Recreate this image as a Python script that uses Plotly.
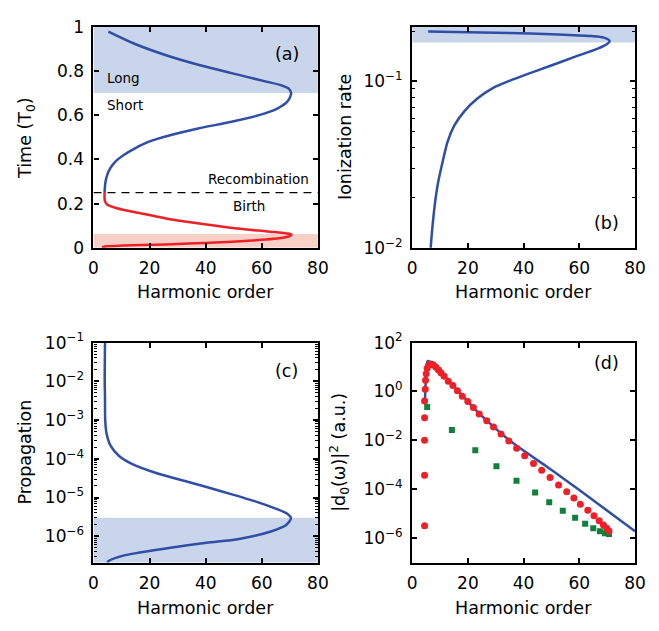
import plotly.graph_objects as go

W, H = 659, 631
FONT = "DejaVu Sans"
BLUE = "#2f4ea6"
RED = "#ee2027"
GREEN = "#11803c"
BAND_BLUE = "#c9d5ea"
BAND_RED = "#f9d0c8"

# ---------------- Panel (a): time vs harmonic order ----------------
recomb_time = [0.252, 0.28, 0.30, 0.33, 0.36, 0.39, 0.42, 0.45, 0.48, 0.51, 0.54,
               0.57, 0.60, 0.63, 0.66, 0.685, 0.702, 0.72, 0.735, 0.753, 0.789, 0.826,
               0.869, 0.922, 0.978]
recomb_order = [3.95, 4.1, 4.3, 4.9, 6.0, 7.8, 10.8, 14.8, 19.8, 27.6, 37.3,
                49.2, 59.0, 65.5, 69.0, 70.2, 70.4, 69.6, 67.0, 61.2, 49.6, 38.0,
                26.4, 14.8, 5.3]
birth_time = [0.003, 0.007, 0.010, 0.014, 0.019, 0.025, 0.033, 0.045, 0.055, 0.060,
              0.065, 0.073, 0.087, 0.106, 0.128, 0.157, 0.179, 0.196, 0.210, 0.222, 0.252]
birth_order = [3.0, 4.9, 10.6, 22.2, 33.8, 45.4, 57.0, 67.5, 70.2, 70.5,
               68.8, 62.8, 51.2, 39.6, 28.0, 16.45, 8.34, 4.86, 4.1, 3.95, 3.95]
long_band = [0.70, 1.0]
birth_band = [0.0, 0.0625]
split_time = 0.25
time_ticks = [0, 0.2, 0.4, 0.6, 0.8, 1]
time_ticktext = ["0", "0.2", "0.4", "0.6", "0.8", "1"]

# ---------------- Panel (b): ionization rate ----------------
ion_order = [5.73, 34.9, 52.4, 64.1, 68.8, 70.9, 70.0, 66.4, 58.3, 48.9, 40.8, 34.9,
             29.1, 23.4, 18.7, 15.1, 12.7, 11.0, 9.24, 8.07, 7.13, 6.67, 6.5]
ion_rate = [0.1986, 0.195, 0.191, 0.1866, 0.1828, 0.1746, 0.1671, 0.1563, 0.140, 0.1225,
            0.1096, 0.1005, 0.0912, 0.0787, 0.0659, 0.0541, 0.0433, 0.0332, 0.0243,
            0.01786, 0.01253, 0.01005, 0.0089]
ion_band = [0.171, 0.25]

# ---------------- Panel (c): propagation ----------------
prop_order = [4.1, 4.0, 4.1, 4.16, 4.63, 6.13, 9.03, 13.67, 22.9, 34.5, 46.1, 57.7,
              64.7, 69.3, 70.4, 68.7, 63.5, 51.9, 40.3, 28.0, 16.45, 10.6, 5.4, 4.9]
prop_val = [0.1, 0.01, 3.7e-3, 1.05e-3, 4.57e-4, 2.14e-4, 1.20e-4, 7.41e-5, 4.17e-5,
            2.45e-5, 1.41e-5, 7.94e-6, 5.25e-6, 3.72e-6, 2.95e-6, 1.95e-6, 1.35e-6,
            8.51e-7, 6.76e-7, 5.13e-7, 3.80e-7, 3.16e-7, 2.29e-7, 2.09e-7]
prop_band = [1e-7, 3.0e-6]

# ---------------- Panel (d): dipole spectrum ----------------
dip_order = [4.6, 4.9, 5.2, 5.6, 6.5, 8.0, 10.9, 16.7, 22.5, 28.4, 34.2, 40.6,
             48.0, 56.0, 64.0, 72.0, 80.0]
dip_val = [0.447, 3.16, 11.2, 17.8, 15.8, 11.2, 5.25, 1.0, 0.191, 0.0437, 0.0117,
           3.39e-3, 8.91e-4, 2.0e-4, 4.27e-5, 9.12e-6, 1.91e-6]
red_order = [4.45, 4.45, 4.45, 4.45, 4.45, 4.68, 4.8, 5.03, 5.38, 5.97, 6.78, 7.6,
             8.54, 9.47, 10.4, 11.45, 12.97, 14.6, 16.24, 17.99, 19.97, 21.96, 24.06,
             26.75, 29.2, 31.9, 34.7, 37.5, 40.4, 43.56, 46.48, 49.5, 52.55, 55.47,
             58.04, 60.37, 63.06, 65.28, 67.15, 68.66, 69.83, 70.65]
red_val = [3.2e-6, 3.7e-4, 1.0e-2, 8.5e-2, 0.41, 1.23, 2.88, 5.25, 8.91, 12.0, 13.2, 12.0,
           9.77, 7.59, 5.75, 4.17, 2.63, 1.74, 1.07, 0.631, 0.389, 0.219, 0.120,
           0.0631, 0.0355, 0.0182, 9.33e-3, 4.79e-3, 2.34e-3, 1.12e-3, 6.03e-4, 3.02e-4,
           1.51e-4, 7.94e-5, 4.37e-5, 2.45e-5, 1.38e-5, 8.32e-6, 5.13e-6, 3.47e-6,
           2.57e-6, 1.95e-6]
green_order = [5.38, 14.26, 22.66, 30.25, 37.45, 44.14, 49.2, 54.07, 58.5, 62.1, 65.0,
               67.4, 69.25, 70.65]
green_val = [0.234, 0.0263, 3.98e-3, 8.71e-4, 2.24e-4, 7.41e-5, 2.95e-5, 1.32e-5,
             6.76e-6, 3.89e-6, 2.57e-6, 1.91e-6, 1.58e-6, 1.48e-6]

order_ticks = [0, 20, 40, 60, 80]
order_range = [0, 80]

fig = go.Figure()


def band(xa, ya, lo, hi, color):
    fig.add_trace(go.Scatter(x=[order_range[0], order_range[1], order_range[1], order_range[0]],
                             y=[lo, lo, hi, hi], fill="toself", fillcolor=color,
                             mode="lines", line=dict(width=0), hoverinfo="skip",
                             showlegend=False, xaxis=xa, yaxis=ya))


# panel a
band("x", "y", long_band[0], long_band[1], BAND_BLUE)
band("x", "y", birth_band[0], birth_band[1], BAND_RED)
fig.add_trace(go.Scatter(x=order_range, y=[split_time, split_time], mode="lines",
                         line=dict(color="black", width=1.2, dash="8px,6px"),
                         showlegend=False, xaxis="x", yaxis="y"))
fig.add_trace(go.Scatter(x=birth_order, y=birth_time, mode="lines",
                         line=dict(color=RED, width=2.5, shape="spline", smoothing=0.8),
                         showlegend=False, xaxis="x", yaxis="y"))
fig.add_trace(go.Scatter(x=recomb_order, y=recomb_time, mode="lines",
                         line=dict(color=BLUE, width=2.5, shape="spline", smoothing=0.8),
                         showlegend=False, xaxis="x", yaxis="y"))

# panel b
band("x2", "y2", ion_band[0], ion_band[1], BAND_BLUE)
fig.add_trace(go.Scatter(x=ion_order, y=ion_rate, mode="lines",
                         line=dict(color=BLUE, width=2.5, shape="spline", smoothing=0.8),
                         showlegend=False, xaxis="x2", yaxis="y2"))

# panel c
band("x3", "y3", prop_band[0], prop_band[1], BAND_BLUE)
fig.add_trace(go.Scatter(x=prop_order, y=prop_val, mode="lines",
                         line=dict(color=BLUE, width=2.5, shape="spline", smoothing=0.8),
                         showlegend=False, xaxis="x3", yaxis="y3"))

# panel d
fig.add_trace(go.Scatter(x=dip_order, y=dip_val, mode="lines",
                         line=dict(color=BLUE, width=2.5, shape="spline", smoothing=0.8),
                         showlegend=False, xaxis="x4", yaxis="y4"))
fig.add_trace(go.Scatter(x=green_order, y=green_val, mode="markers",
                         marker=dict(color=GREEN, size=6, symbol="square", line=dict(width=0)),
                         showlegend=False, xaxis="x4", yaxis="y4"))
fig.add_trace(go.Scatter(x=red_order, y=red_val, mode="markers",
                         marker=dict(color=RED, size=7, line=dict(width=0)),
                         showlegend=False, xaxis="x4", yaxis="y4"))


def sup(e):
    return "10<sup>\u2212%d</sup>" % (-e) if e < 0 else "10<sup>%d</sup>" % e


def minor_vals(e0, e1):
    return [m * 10.0 ** e for e in range(e0, e1) for m in range(2, 10)]


TICKFONT = dict(family=FONT, size=17, color="black")
common = dict(showline=True, linecolor="black", linewidth=2.2, mirror="ticks",
              ticks="inside", ticklen=5, tickwidth=1.5, tickcolor="black",
              showgrid=False, zeroline=False, tickfont=TICKFONT, ticklabelstandoff=4)

xa_dom = [90.7 / W, 320.7 / W]
xb_dom = [417.3 / W, 645.7 / W]
ya_dom = [1 - 244.3 / H, 1 - 15.3 / H]
yc_dom = [1 - 570.5 / H, 1 - 342.5 / H]


def minor(e0, e1):
    return dict(tickmode="array", tickvals=minor_vals(e0, e1), ticks="inside", ticklen=3,
                tickwidth=1, tickcolor="black", showgrid=False)


fig.update_layout(
    width=W, height=H, margin=dict(l=0, r=0, t=0, b=0),
    paper_bgcolor="white", plot_bgcolor="white", showlegend=False,
    xaxis=dict(domain=xa_dom, range=order_range, tickvals=order_ticks, anchor="y", **common),
    yaxis=dict(domain=ya_dom, range=[0, 1], tickvals=time_ticks, ticktext=time_ticktext,
               anchor="x", **common),
    xaxis2=dict(domain=xb_dom, range=order_range, tickvals=order_ticks, anchor="y2", **common),
    yaxis2=dict(domain=ya_dom, type="log", range=[-2, -0.673], tickvals=[0.01, 0.1],
                ticktext=[sup(-2), sup(-1)], anchor="x2", minor=minor(-2, 0), **common),
    xaxis3=dict(domain=xa_dom, range=order_range, tickvals=order_ticks, anchor="y3", **common),
    yaxis3=dict(domain=yc_dom, type="log", range=[-6.68, -1],
                tickvals=[1e-6, 1e-5, 1e-4, 1e-3, 1e-2, 1e-1],
                ticktext=[sup(e) for e in [-6, -5, -4, -3, -2, -1]], anchor="x3",
                minor=minor(-7, -1), **common),
    xaxis4=dict(domain=xb_dom, range=order_range, tickvals=order_ticks, anchor="y4", **common),
    yaxis4=dict(domain=yc_dom, type="log", range=[-7, 2],
                tickvals=[1e-6, 1e-4, 1e-2, 1, 100],
                ticktext=[sup(e) for e in [-6, -4, -2, 0, 2]], anchor="x4", **common),
)

ann = []
TF = dict(family=FONT, size=17.5, color="black")


def paper_text(txt, px, py, angle=0, font=TF):
    ann.append(dict(text=txt, x=px / W, y=1 - py / H, xref="paper", yref="paper",
                    showarrow=False, textangle=angle, font=font,
                    xanchor="center", yanchor="middle"))


# axis titles
paper_text("Harmonic order", 205.7, 290)
paper_text("Harmonic order", 531.5, 290)
paper_text("Harmonic order", 205.7, 618)
paper_text("Harmonic order", 531.5, 618)
paper_text("Time (T<sub>0</sub>)", 22, 130, -90)
paper_text("Ionization rate", 349, 130, -90)
paper_text("Propagation", 21, 456, -90)
paper_text("|d<sub>0</sub>(\u03c9)|<sup>2</sup> (a.u.)", 342, 456, -90)

# panel labels
paper_text("(a)", 289.5, 43.5)
paper_text("(b)", 616, 218.5)
paper_text("(c)", 288.5, 371.5)
paper_text("(d)", 616.5, 363.5)

# panel (a) inline texts
SF = dict(family=FONT, size=13.5, color="black")
paper_text("Long", 121.7, 68.5, font=SF)
paper_text("Short", 123.3, 96, font=SF)
paper_text("Recombination", 259.3, 173.3, font=SF)
paper_text("Birth", 250, 201, font=SF)

fig.update_layout(annotations=ann)
fig.write_html("out.html")
